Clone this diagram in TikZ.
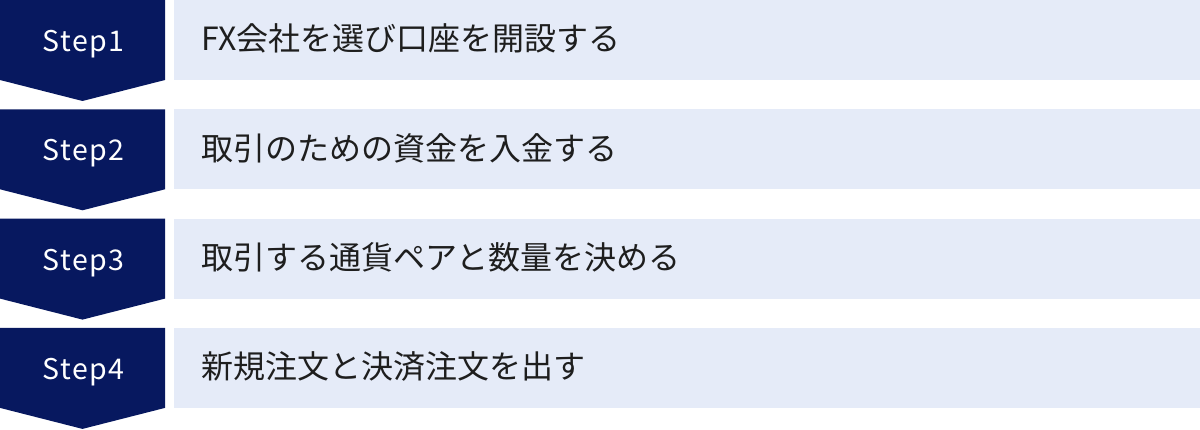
\documentclass[tikz,border=0pt]{standalone}
\usepackage{fontspec}
\setmainfont{Noto Sans CJK JP}
\newfontfamily\stepfont[LetterSpace=5]{Noto Sans CJK JP}
\definecolor{navy}{HTML}{07185F}
\definecolor{lightbox}{HTML}{E5EBF8}
\definecolor{txt}{HTML}{1E1E1E}
\tikzset{
  stepshape/.style={fill=navy},
  steplabel/.style={text=white, font=\stepfont\fontsize{28.5}{30}\selectfont, inner sep=0pt, anchor=base},
  itembox/.style={fill=lightbox, draw=none, minimum width=1026pt, minimum height=80pt, anchor=north west, inner sep=0pt},
  itemtext/.style={text=txt, font=\fontsize{32}{36}\selectfont, inner sep=0pt, anchor=base west},
}
\begin{document}
\begin{tikzpicture}[x=1pt,y=1pt]
\useasboundingbox (0,0) rectangle (1200,429);
\foreach \i/\lab/\txt in {0/Step1/FX会社を選び口座を開設する,1/Step2/取引のための資金を入金する,2/Step3/取引する通貨ペアと数量を決める,3/Step4/新規注文と決済注文を出す}{
  \pgfmathsetmacro{\top}{429-109.3*\i}
  \fill[stepshape] (0,\top) -- (165,\top) -- (165,\top-80) -- (82.5,\top-101) -- (0,\top-80) -- cycle;
  \node[steplabel] (s\i) at (83.5,\top-51.7) {\lab};
  \node[itembox] (b\i) at (174,\top) {};
  \node[itemtext] (t\i) at (201,\top-51) {\txt};
}
\end{tikzpicture}
\end{document}
